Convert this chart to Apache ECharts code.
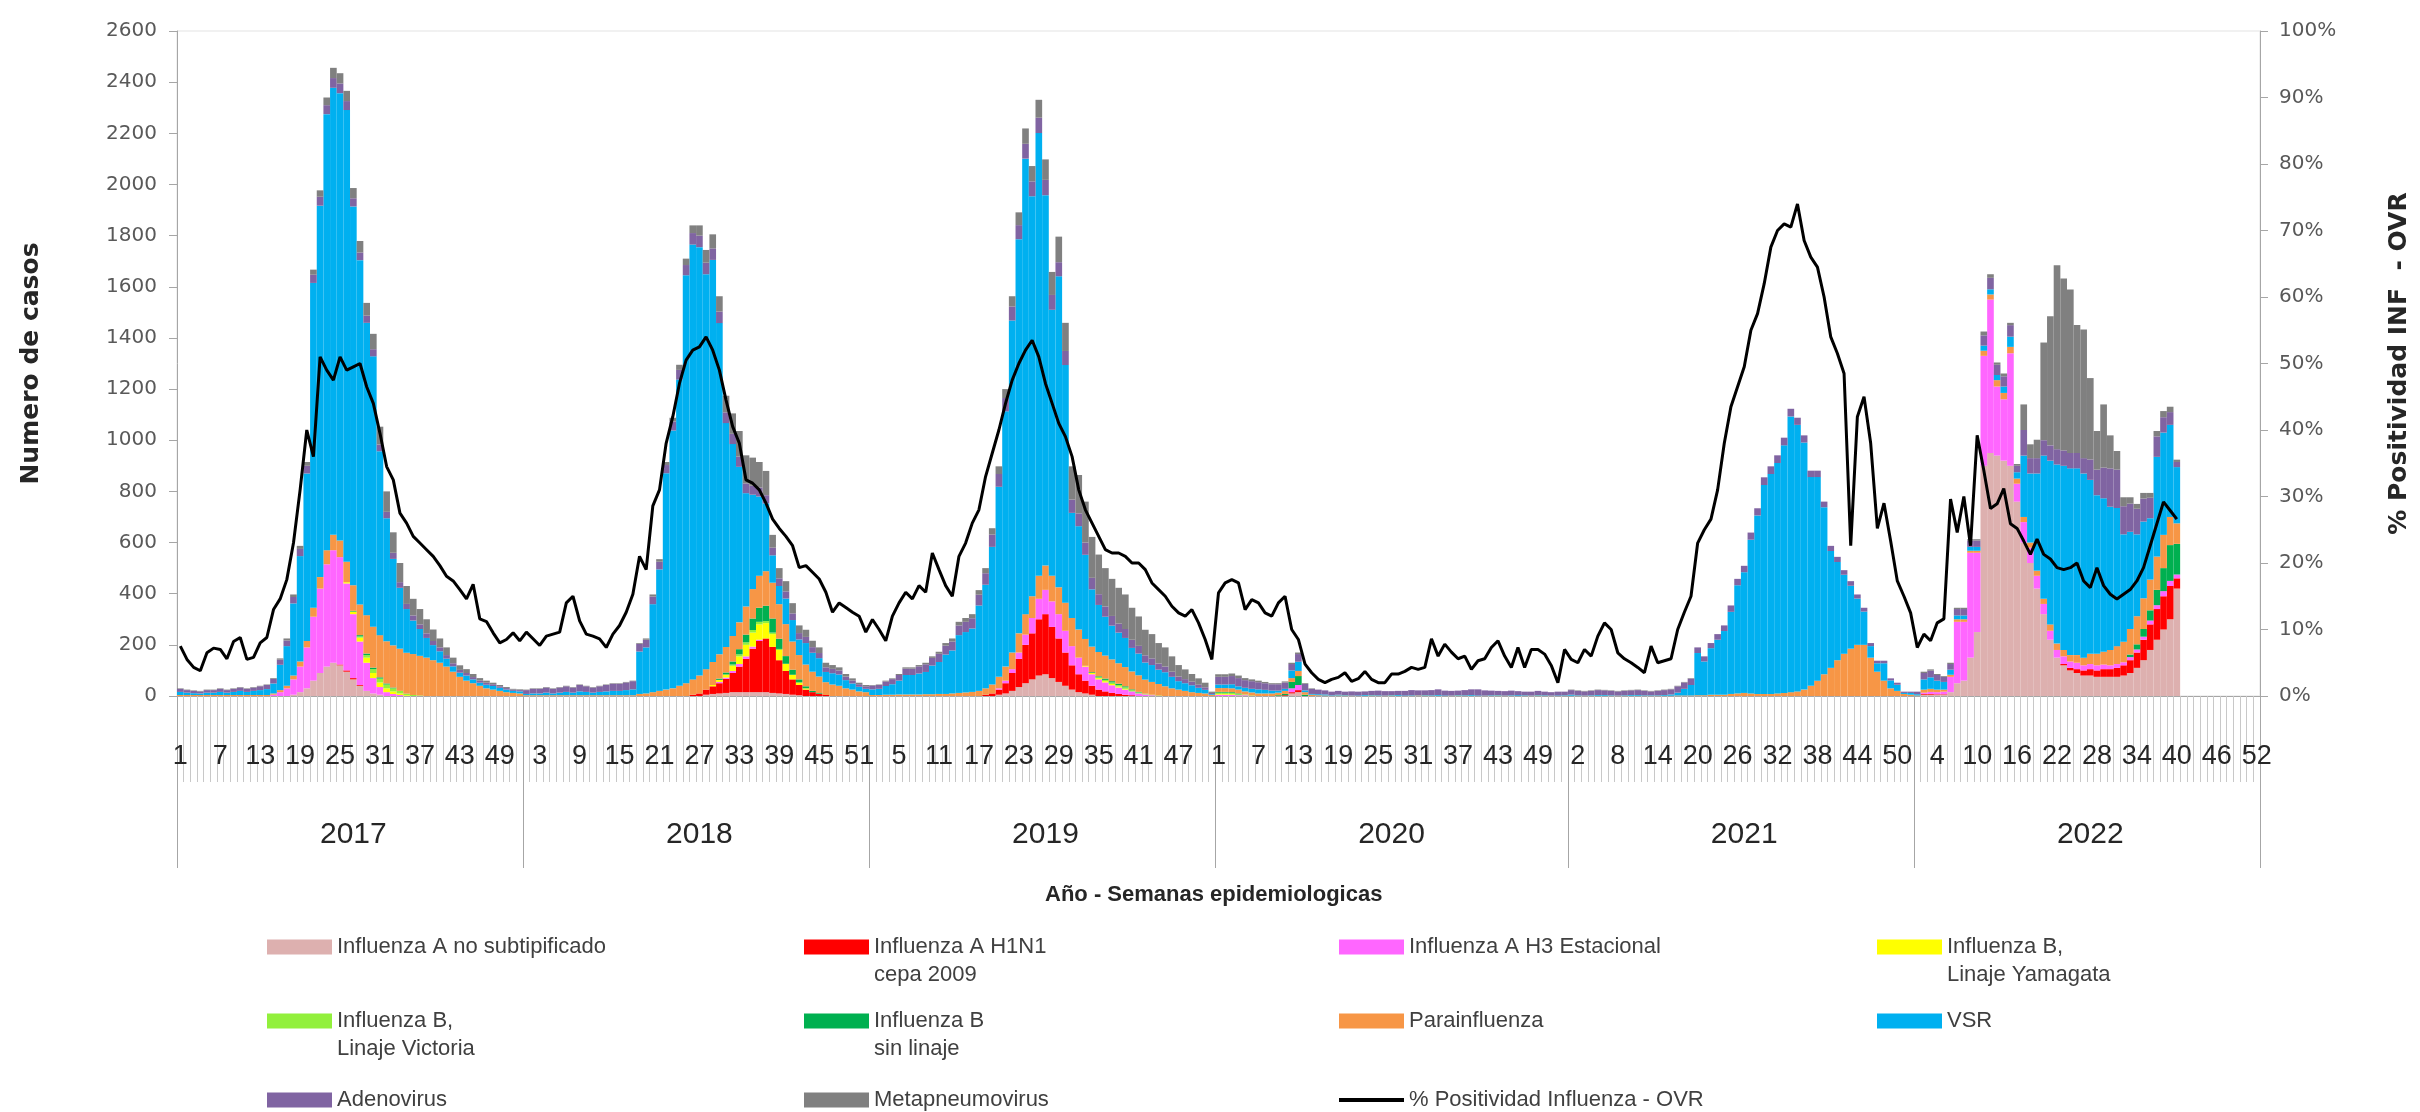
<!DOCTYPE html>
<html>
<head>
<meta charset="utf-8">
<script src="https://cdn.jsdelivr.net/npm/echarts@6/dist/echarts.min.js"></script>
<style>
  html, body { margin: 0; padding: 0; background: #ffffff; }
  #chart { width: 2420px; height: 1112px; }
</style>
</head>
<body>
<div id="chart"></div>
<script>
// ---------------- DATA ----------------
const years = ['2017', '2018', '2019', '2020', '2021', '2022'];
const weeksPerYear = [52, 52, 52, 53, 52, 52];

const seriesNames = [
  'Influenza A no subtipificado',
  'Influenza A H1N1\ncepa 2009',
  'Influenza A H3 Estacional',
  'Influenza B,\nLinaje Yamagata',
  'Influenza B,\nLinaje Victoria',
  'Influenza B\nsin linaje',
  'Parainfluenza',
  'VSR',
  'Adenovirus',
  'Metapneumovirus'
];
const lineName = '% Positividad Influenza - OVR';

const infANoSub = [
  // 2017
  0,0,0,0,0,0,0,0,0,0, 0,0,0,0,0,0,0,5,15,30, 60,90,115,130,120,95,65,40,20,10, 5,0,0,0,0,0,0,0,0,0, 0,0,0,0,0,0,0,0,0,0, 0,0,
  // 2018
  0,0,0,0,0,0,0,0,0,0, 0,0,0,0,0,0,0,0,0,0, 0,0,0,0,0,0,0,5,8,10, 12,15,15,15,15,15,15,12,10,8, 5,3,0,0,0,0,0,0,0,0, 0,0,
  // 2019
  0,0,0,0,0,0,0,0,0,0, 0,0,0,0,0,0,0,0,0,5, 10,20,35,50,65,80,85,70,55,40, 25,15,10,5,0,0,0,0,0,0, 0,0,0,0,0,0,0,0,0,0, 0,0,
  // 2020
  0,0,0,0,0,0,0,0,0,0, 0,10,15,0,0,0,0,0,0,0, 0,0,0,0,0,0,0,0,0,0, 0,0,0,0,0,0,0,0,0,0, 0,0,0,0,0,0,0,0,0,0, 0,0,0,
  // 2021
  0,0,0,0,0,0,0,0,0,0, 0,0,0,0,0,0,0,0,0,0, 0,0,0,0,0,0,0,0,0,0, 0,0,0,0,0,0,0,0,0,0, 0,0,0,0,0,0,0,0,0,0, 0,0,
  // 2022
  0,5,5,5,5,15,50,60,150,250, 900,950,940,920,900,760,600,520,420,320, 220,150,120,100,90,80,80,75,75,75, 75,80,90,110,140,180,220,260,300,420,
  null,null,null,null,null,null,null,null,null,null,null,null
];

const infAH1N1 = [
  // 2017
  0,0,0,0,0,0,0,0,0,0, 0,0,0,0,0,0,0,0,0,0, 0,0,0,0,3,5,5,3,0,0, 0,0,0,0,0,0,0,0,0,0, 0,0,0,0,0,0,0,0,0,0, 0,0,
  // 2018
  0,0,0,0,0,0,0,0,0,0, 0,0,0,0,0,0,0,0,0,0, 0,0,0,0,0,5,10,20,30,40, 55,75,100,130,170,200,210,180,130,90, 60,40,25,15,8,4,0,0,0,0, 0,0,
  // 2019
  0,0,0,0,0,0,0,0,0,0, 0,0,0,0,0,0,0,5,10,20, 40,70,110,150,180,220,235,200,170,130, 95,70,50,35,25,18,12,8,5,3, 0,0,0,0,0,0,0,0,0,0, 0,0,
  // 2020
  0,0,0,0,0,0,0,0,0,0, 3,5,8,0,0,0,0,0,0,0, 0,0,0,0,0,0,0,0,0,0, 0,0,0,0,0,0,0,0,0,0, 0,0,0,0,0,0,0,0,0,0, 0,0,0,
  // 2021
  0,0,0,0,0,0,0,0,0,0, 0,0,0,0,0,0,0,0,0,0, 0,0,0,0,0,0,0,0,0,0, 0,0,0,0,0,0,0,0,0,0, 0,0,0,0,0,0,0,0,0,0, 0,0,
  // 2022
  0,3,3,2,2,0,0,0,0,0, 0,0,0,0,0,0,0,0,0,0, 0,0,5,10,15,20,25,25,30,30, 35,40,50,60,80,100,120,130,130,40,
  null,null,null,null,null,null,null,null,null,null,null,null
];

const infAH3 = [
  // 2017
  0,0,0,0,0,0,0,0,0,0, 0,0,0,0,5,15,30,60,100,160, 250,330,400,440,420,340,250,170,110,60, 30,15,8,4,0,0,0,0,0,0, 0,0,0,0,0,0,0,0,0,0, 0,0,
  // 2018
  0,0,0,0,0,0,0,0,0,0, 0,0,0,0,0,0,0,0,0,0, 0,0,0,0,0,0,0,0,0,5, 5,8,10,10,8,5,0,0,0,0, 0,0,0,0,0,0,0,0,0,0, 0,0,
  // 2019
  0,0,0,0,0,0,0,0,0,0, 0,0,0,0,0,0,0,0,0,5, 10,15,25,40,60,80,95,100,95,85, 75,65,55,45,40,35,30,25,20,15, 10,6,3,0,0,0,0,0,0,0, 0,0,
  // 2020
  5,5,4,3,3,0,0,0,0,0, 0,15,20,0,0,0,0,0,0,0, 0,0,0,0,0,0,0,0,0,0, 0,0,0,0,0,0,0,0,0,0, 0,0,0,0,0,0,0,0,0,0, 0,0,0,
  // 2021
  0,0,0,0,0,0,0,0,0,0, 0,0,0,0,0,0,0,0,0,0, 0,0,0,0,0,0,0,0,0,0, 0,0,0,0,0,0,0,0,0,0, 0,0,0,0,0,0,0,0,0,0, 0,0,
  // 2022
  0,5,8,8,10,60,240,230,410,310, 430,600,270,240,440,70,80,60,50,40, 35,30,30,25,25,20,20,20,18,15, 15,12,12,12,12,15,15,20,20,15,
  null,null,null,null,null,null,null,null,null,null,null,null
];

const infBYamagata = [
  // 2017
  0,0,0,0,0,0,0,0,0,0, 0,0,0,0,0,0,0,0,0,0, 0,0,0,0,0,5,10,15,20,20, 18,15,10,6,3,0,0,0,0,0, 0,0,0,0,0,0,0,0,0,0, 0,0,
  // 2018
  0,0,0,0,0,0,0,0,0,0, 0,0,0,0,0,0,0,0,0,0, 0,0,0,0,0,0,0,0,5,8, 12,20,30,45,55,60,60,50,40,28, 18,10,5,0,0,0,0,0,0,0, 0,0,
  // 2019
  0,0,0,0,0,0,0,0,0,0, 0,0,0,0,0,0,0,0,0,0, 0,0,0,0,0,0,0,0,0,0, 0,0,3,5,5,5,5,4,3,0, 0,0,0,0,0,0,0,0,0,0, 0,0,
  // 2020
  3,3,3,0,0,0,0,0,0,0, 0,0,0,0,0,0,0,0,0,0, 0,0,0,0,0,0,0,0,0,0, 0,0,0,0,0,0,0,0,0,0, 0,0,0,0,0,0,0,0,0,0, 0,0,0,
  // 2021
  0,0,0,0,0,0,0,0,0,0, 0,0,0,0,0,0,0,0,0,0, 0,0,0,0,0,0,0,0,0,0, 0,0,0,0,0,0,0,0,0,0, 0,0,0,0,0,0,0,0,0,0, 0,0,
  // 2022
  0,0,0,0,0,0,0,0,0,0, 0,0,0,0,0,0,0,0,0,0, 0,0,0,0,0,0,0,0,0,0, 0,0,0,0,0,0,0,0,0,0,
  null,null,null,null,null,null,null,null,null,null,null,null
];

const infBVictoria = [
  // 2017
  0,0,0,0,0,0,0,0,0,0, 0,0,0,0,0,0,0,0,0,0, 0,0,0,0,0,0,0,5,10,15, 15,15,12,10,6,4,2,0,0,0, 0,0,0,0,0,0,0,0,0,0, 0,0,
  // 2018
  0,0,0,0,0,0,0,0,0,0, 0,0,0,0,0,0,0,0,0,0, 0,0,0,0,0,0,0,0,0,0, 0,5,8,10,10,10,8,6,4,0, 0,0,0,0,0,0,0,0,0,0, 0,0,
  // 2019
  0,0,0,0,0,0,0,0,0,0, 0,0,0,0,0,0,0,0,0,0, 0,0,0,0,0,0,0,0,0,0, 0,0,0,0,3,5,6,6,6,5, 4,3,2,2,0,0,0,0,0,0, 0,0,
  // 2020
  5,5,5,4,3,2,0,0,0,0, 0,0,0,0,0,0,0,0,0,0, 0,0,0,0,0,0,0,0,0,0, 0,0,0,0,0,0,0,0,0,0, 0,0,0,0,0,0,0,0,0,0, 0,0,0,
  // 2021
  0,0,0,0,0,0,0,0,0,0, 0,0,0,0,0,0,0,0,0,0, 0,0,0,0,0,0,0,0,0,0, 0,0,0,0,0,0,0,0,0,0, 0,0,0,0,0,0,0,0,0,0, 0,0,
  // 2022
  0,0,0,0,0,0,0,0,0,0, 0,0,0,0,0,0,0,0,0,0, 0,0,0,0,0,0,0,0,0,0, 0,0,0,0,0,0,0,0,0,0,
  null,null,null,null,null,null,null,null,null,null,null,null
];

const infBSinLinaje = [
  // 2017
  0,0,0,0,0,0,0,0,0,0, 0,0,0,0,0,0,0,0,0,0, 0,0,0,0,0,0,3,5,6,6, 5,4,3,0,0,0,0,0,0,0, 0,0,0,0,0,0,0,0,0,0, 0,0,
  // 2018
  0,0,0,0,0,0,0,0,0,0, 0,0,0,0,0,0,0,0,0,0, 0,0,0,0,0,0,0,0,0,5, 8,12,20,30,45,55,60,55,40,30, 20,12,8,5,3,0,0,0,0,0, 0,0,
  // 2019
  0,0,0,0,0,0,0,0,0,0, 0,0,0,0,0,0,0,0,0,0, 0,0,0,0,0,0,0,0,0,0, 0,0,0,3,4,5,5,5,4,3, 2,0,0,0,0,0,0,0,0,0, 0,0,
  // 2020
  3,3,3,3,0,0,0,0,0,3, 5,25,35,5,0,0,0,0,0,0, 0,0,0,0,0,0,0,0,0,0, 0,0,0,0,0,0,0,0,0,0, 0,0,0,0,0,0,0,0,0,0, 0,0,0,
  // 2021
  0,0,0,0,0,0,0,0,0,0, 0,0,0,0,0,0,0,0,0,0, 0,0,0,0,0,0,0,0,0,0, 0,0,0,0,0,0,0,0,0,0, 0,0,0,0,0,0,0,0,0,0, 0,0,
  // 2022
  0,0,0,0,0,0,0,0,0,0, 0,0,0,0,0,0,0,0,0,0, 0,0,0,0,0,0,0,0,0,0, 0,0,10,20,30,40,60,90,140,120,
  null,null,null,null,null,null,null,null,null,null,null,null
];

const parainfluenza = [
  // 2017
  4,4,4,4,4,4,4,4,4,4, 4,4,4,4,5,8,10,15,20,25, 35,45,55,60,65,80,100,120,150,160, 165,165,165,165,160,160,155,150,140,130, 115,95,75,60,50,40,30,25,20,15, 12,10,
  // 2018
  3,3,3,3,3,3,3,3,3,3, 3,3,3,3,3,3,3,8,10,15, 20,25,30,40,50,60,70,80,90,95, 100,100,105,110,115,125,135,140,135,125, 110,95,85,75,65,50,45,40,30,25, 18,15,
  // 2019
  4,4,5,5,6,6,6,6,7,7, 8,8,10,12,14,16,20,25,35,45, 55,65,75,80,85,90,95,100,105,110, 110,110,105,100,95,90,85,80,75,70, 65,55,50,45,38,30,25,20,15,12, 10,4,
  // 2020
  15,15,15,15,12,12,10,10,10,10, 12,15,20,10,5,3,2,1,2,2, 1,0,1,2,1,1,2,1,0,1, 2,2,1,1,0,1,2,1,1,0, 1,1,2,1,1,0,1,1,2,1, 1,0,1,
  // 2021
  1,1,1,1,1,1,1,1,1,1, 1,1,1,1,1,1,2,2,2,3, 3,5,5,5,8,10,12,10,8,8, 8,10,12,15,18,25,40,60,85,110, 140,165,185,200,200,150,95,60,30,20, 8,5,
  // 2022
  2,12,12,10,8,8,10,10,8,8, 20,20,25,25,25,20,20,20,20,20, 25,25,25,25,30,30,40,45,50,60, 70,80,100,110,120,120,130,130,110,80,
  null,null,null,null,null,null,null,null,null,null,null,null
];

const vsr = [
  // 2017
  12,9,7,6,9,9,12,9,12,16, 12,16,19,23,39,99,155,282,412,655, 1270,1452,1705,1748,1749,1766,1481,1346,1143,1057, 719,481,338,238,171,131,105,77,59,45, 31,21,16,20,15,12,14,14,12,10, 8,8,
  // 2018
  5,7,7,10,7,10,13,10,15,13, 10,13,15,17,17,20,23,166,180,344, 475,846,1008,1197,1595,1700,1675,1544,1572,1295, 875,750,608,443,369,310,265,107,71,100, 84,61,84,74,72,40,44,44,32,24, 18,13,
  // 2019
  22,24,34,41,54,76,76,82,87,112, 125,154,168,226,236,248,334,405,538,743, 998,1298,1541,1781,1564,1731,1448,1040,1216,929, 411,404,329,224,184,152,132,120,114,92, 85,67,66,56,55,45,33,30,27,20, 14,3,
  // 2020
  14,14,16,13,14,14,16,14,11,8, 8,30,36,7,3,4,4,2,3,2, 1,2,3,2,2,1,2,3,2,2, 1,2,2,3,2,1,2,2,3,2, 1,2,2,1,2,3,2,1,2,2, 1,2,2,
  // 2021
  4,2,1,2,3,3,2,1,2,3, 3,2,2,2,3,5,11,26,41,165, 132,182,215,249,321,423,472,601,698,817, 860,901,968,1078,1042,966,816,796,653,457, 384,309,246,181,130,45,33,68,31,24, 4,7,
  // 2022
  5,40,45,35,30,20,15,15,15,15, 20,20,20,25,40,25,240,270,380,560, 640,700,720,730,730,720,680,620,600,560, 540,420,380,320,300,240,390,400,360,220,
  null,null,null,null,null,null,null,null,null,null,null,null
];

const adenovirus = [
  // 2017
  12,10,9,8,10,10,12,10,12,13, 12,13,15,16,18,20,22,25,28,30, 32,35,35,38,38,35,32,30,28,28, 26,25,24,22,20,20,18,18,16,15, 14,12,11,10,9,8,8,7,6,6, 5,5,
  // 2018
  15,18,18,20,18,20,22,20,25,22, 20,22,25,28,28,30,32,30,30,30, 30,32,35,38,40,45,45,45,45,45, 42,40,40,38,35,35,32,30,30,28, 26,25,24,22,20,18,17,16,14,12, 10,10,
  // 2019
  15,15,18,20,22,25,25,28,30,30, 32,35,35,38,40,40,42,45,48,50, 52,55,55,58,58,60,60,58,55,55, 52,50,48,45,42,40,38,35,35,32, 30,28,26,24,22,20,18,16,14,12, 10,5,
  // 2020
  30,30,32,32,30,30,28,26,25,25, 25,25,30,25,20,18,16,14,15,13, 16,15,14,16,18,17,15,16,18,20, 19,18,20,22,19,18,17,20,22,24, 20,18,16,17,18,16,14,15,16,14, 13,15,14,
  // 2021
  18,17,16,17,19,18,17,16,17,18, 19,17,15,17,19,20,25,25,25,22, 20,20,22,22,25,25,25,28,28,30, 30,30,30,30,28,28,25,25,22,20, 20,18,18,16,15,12,10,10,8,8, 5,5,
  // 2022
  10,25,26,22,20,22,25,25,25,25, 40,45,40,40,45,25,100,60,60,60, 60,60,60,60,60,60,80,100,120,150, 150,110,110,100,90,80,80,60,50,20,
  null,null,null,null,null,null,null,null,null,null,null,null
];

const metapneumovirus = [
  // 2017
  2,2,2,2,2,2,2,2,2,2, 2,2,2,2,3,5,8,10,12,15, 20,25,30,40,40,40,40,45,50,60, 70,80,80,75,70,65,60,55,45,35, 30,22,18,15,12,10,8,6,5,4, 3,3,
  // 2018
  2,2,2,2,2,2,2,2,2,2, 2,2,2,2,2,2,2,3,5,8, 10,12,15,20,25,30,40,50,55,60, 65,80,100,110,110,100,95,50,40,40, 40,30,28,25,22,18,15,12,10,8, 6,5,
  // 2019
  2,2,3,3,4,5,5,5,6,6, 8,10,12,14,15,16,18,20,25,30, 35,40,50,60,60,70,80,90,100,110, 130,150,160,160,155,150,145,140,135,125, 115,100,95,80,75,60,45,38,30,25, 18,5,
  // 2020
  10,10,10,10,8,7,6,5,4,4, 4,5,6,3,2,0,0,0,0,0, 0,0,0,0,0,0,0,0,0,0, 0,0,0,0,0,0,0,0,0,0, 0,0,0,0,0,0,0,0,0,0, 0,0,0,
  // 2021
  2,2,2,2,2,2,2,2,2,2, 2,2,2,2,2,2,2,2,2,0, 0,0,0,0,0,0,0,0,0,0, 0,0,0,0,0,0,0,0,0,0, 0,0,0,0,0,0,0,0,0,0, 0,0,
  // 2022
  0,5,5,4,3,5,5,5,5,5, 15,14,9,11,9,7,100,54,72,382, 505,719,672,639,501,503,318,151,247,129, 73,35,25,19,22,19,21,24,21,9,
  null,null,null,null,null,null,null,null,null,null,null,null
];

const positividad = [
  // 2017
  7.5,5.5,4.3,3.8,6.5,7.2,7.0,5.6,8.2,8.8, 5.5,5.8,8.0,8.8,13.0,14.6,17.5,23,31,40, 36,51,49,47.5,51,49,49.5,50,46.5,44, 39.5,34.5,32.5,27.5,26,24,23,22,21,19.6, 18,17.3,16,14.6,16.8,11.6,11.2,9.5,8,8.5, 9.5,8.3,
  // 2018
  9.6,8.6,7.6,9.0,9.3,9.6,14,15,11.3,9.3, 9.0,8.6,7.3,9.3,10.6,12.6,15.3,21,19,28.6, 31,38,42,47,50.5,52,52.5,54,52,49, 44.5,40.5,38,32.5,32,31,29,26.6,25.2,24, 22.6,19.3,19.6,18.6,17.6,15.6,12.6,14,13.3,12.6, 12,9.6,
  // 2019
  11.5,10,8.3,12,14,15.6,14.6,16.6,15.6,21.5, 19,16.6,15,21,23,26,28,33,36.5,40, 44,47.5,50,52,53.5,51,47,44,41,39, 36,31,28,26,24,22,21.5,21.5,21,20, 20,19,17,16,15,13.5,12.5,12,13,11, 8.5,5.5,
  // 2020
  15.5,17,17.5,17,13,14.5,14,12.5,12,14, 15,10,8.5,4.8,3.5,2.5,2,2.5,2.8,3.5, 2.2,2.6,3.7,2.5,2,2,3.3,3.3,3.7,4.3, 4,4.3,8.6,6,7.8,6.6,5.6,6,4,5.3, 5.6,7.3,8.3,6,4.3,7.3,4.3,7,7,6.3, 4.6,2,7,
  // 2021
  5.5,5,7,6,9,11,10,6.5,5.6,5, 4.3,3.5,7.5,5,5.3,5.6,10,12.6,15,23, 25,26.6,31,38,43.5,46.5,49.5,55,57.5,62, 67.5,70,71,70.5,74,68.5,66,64.5,60,54, 51.5,48.5,22.6,42,45,38,25.2,29,23.3,17.3, 15,12.5,
  // 2022
  7.3,9.3,8.3,11,11.6,29.6,24.6,30,22.6,39.2, 33.9,28.2,28.9,31.2,25.9,25.2,23.3,21.3,23.6,21.3, 20.6,19.3,19,19.3,20,17.3,16.3,19.3,16.6,15.3, 14.6,15.3,16,17.3,19.3,22.6,25.9,29.2,27.9,26.6,
  null,null,null,null,null,null,null,null,null,null,null,null
];

const seriesColors = ['#DDB0AF', '#FF0000', '#FF66FF', '#FFFF00', '#92F03C', '#00B050', '#F79646', '#00B0F0', '#8064A2', '#808080'];
const barData = [infANoSub, infAH1N1, infAH3, infBYamagata, infBVictoria, infBSinLinaje, parainfluenza, vsr, adenovirus, metapneumovirus];

// ---------------- BUILD ----------------
const totalWeeks = weeksPerYear.reduce((a, b) => a + b, 0);
barData.concat([positividad]).forEach((arr, i) => {
  if (arr.length !== totalWeeks) throw new Error('Array ' + i + ' has length ' + arr.length);
});

const weekLabels = [];
const yearOfWeek = [];
const yearStarts = [];
const yearMids = [];
let idx = 0;
years.forEach((y, k) => {
  yearStarts.push(idx);
  yearMids.push(idx + Math.floor(weeksPerYear[k] / 2));
  for (let w = 1; w <= weeksPerYear[k]; w++) {
    weekLabels.push(String(w));
    yearOfWeek.push(y);
    idx++;
  }
});

const chart = echarts.init(document.getElementById('chart'), null, { renderer: 'canvas' });

const series = barData.map((d, i) => ({
  name: seriesNames[i],
  type: 'bar',
  stack: 'casos',
  data: d,
  barCategoryGap: '0%',
  itemStyle: { color: seriesColors[i] },
  emphasis: { disabled: true },
  xAxisIndex: 0,
  yAxisIndex: 0
}));
series.push({
  name: lineName,
  type: 'line',
  data: positividad,
  xAxisIndex: 0,
  yAxisIndex: 1,
  symbol: 'none',
  color: '#000000',
  lineStyle: { color: '#000000', width: 3 },
  z: 10,
  emphasis: { disabled: true }
});

const LH = 28;
const legendText = { fontSize: 22, lineHeight: LH, color: '#404040', fontFamily: '"Liberation Sans", Arial, sans-serif' };
function leg(name, left, center, multi, isLine) {
  return {
    data: [{ name: name, icon: 'rect' }],
    left: left, top: multi ? center - 1.5 * LH : center - 0.5 * LH, padding: 0,
    orient: 'horizontal',
    itemWidth: 65, itemHeight: isLine ? 4 : 15,
    selectedMode: false,
    textStyle: legendText,
    formatter: multi ? (n => '\n' + n) : (n => n)
  };
}
const colX = [267, 804, 1339, 1877];
const rowC = [947, 1021, 1100];
const legends = [
  leg(seriesNames[0], colX[0], rowC[0], false),
  leg(seriesNames[1], colX[1], rowC[0], true),
  leg(seriesNames[2], colX[2], rowC[0], false),
  leg(seriesNames[3], colX[3], rowC[0], true),
  leg(seriesNames[4], colX[0], rowC[1], true),
  leg(seriesNames[5], colX[1], rowC[1], true),
  leg(seriesNames[6], colX[2], rowC[1], false),
  leg(seriesNames[7], colX[3], rowC[1], false),
  leg(seriesNames[8], colX[0], rowC[2], false),
  leg(seriesNames[9], colX[1], rowC[2], false),
  leg(lineName, colX[2], rowC[2], false, true)
];

const option = {
  animation: false,
  backgroundColor: '#ffffff',
  title: [{
    text: 'Año - Semanas epidemiologicas',
    left: 1045, top: 884, padding: 0,
    textStyle: { fontSize: 22, fontWeight: 'bold', color: '#262626', fontFamily: '"Liberation Sans", Arial, sans-serif' }
  }],
  legend: legends,
  grid: {
    left: 177, right: 159, top: 31, bottom: 416,
    show: true, borderColor: '#e3e3e3', borderWidth: 1, containLabel: false
  },
  xAxis: [{
    type: 'category',
    data: weekLabels,
    position: 'bottom',
    axisLine: { show: true, lineStyle: { color: '#a6a6a6', width: 1 } },
    axisTick: { show: true, interval: 0, length: 86, lineStyle: { color: '#c8c8c8', width: 1 } },
    axisLabel: { interval: 5, margin: 47, fontSize: 27, color: '#262626', fontFamily: '"Liberation Sans", Arial, sans-serif' },
    splitLine: { show: false }
  }, {
    type: 'category',
    data: yearOfWeek,
    position: 'bottom',
    axisLine: { show: false },
    axisTick: { show: true, interval: (i) => yearStarts.indexOf(i) >= 0, length: 172, lineStyle: { color: '#a6a6a6', width: 1 } },
    axisLabel: { interval: (i) => yearMids.indexOf(i) >= 0, margin: 124, fontSize: 30, color: '#262626', fontFamily: '"Liberation Sans", Arial, sans-serif' },
    splitLine: { show: false }
  }],
  yAxis: [{
    type: 'value', min: 0, max: 2600, interval: 200, position: 'left',
    axisLine: { show: true, lineStyle: { color: '#a6a6a6' } },
    axisTick: { show: true, length: 8, lineStyle: { color: '#a6a6a6' } },
    axisLabel: { fontSize: 20, color: '#595959', margin: 20, formatter: (v) => String(v), fontFamily: '"DejaVu Sans", sans-serif' },
    splitLine: { show: false },
    name: 'Numero de casos', nameLocation: 'middle', nameGap: 133,
    nameTextStyle: { fontSize: 25, fontWeight: 'bold', color: '#262626', fontFamily: '"DejaVu Sans", sans-serif' }
  }, {
    type: 'value', min: 0, max: 100, interval: 10, position: 'right',
    axisLine: { show: true, lineStyle: { color: '#a6a6a6' } },
    axisTick: { show: true, length: 8, lineStyle: { color: '#a6a6a6' } },
    axisLabel: { fontSize: 20, color: '#595959', margin: 19, formatter: '{value}%', fontFamily: '"DejaVu Sans", sans-serif' },
    splitLine: { show: false },
    name: '% Positividad INF  - OVR', nameLocation: 'middle', nameGap: 127,
    nameTextStyle: { fontSize: 25, fontWeight: 'bold', color: '#262626', fontFamily: '"DejaVu Sans", sans-serif' }
  }],
  series: series
};
chart.setOption(option);
</script>
</body>
</html>
